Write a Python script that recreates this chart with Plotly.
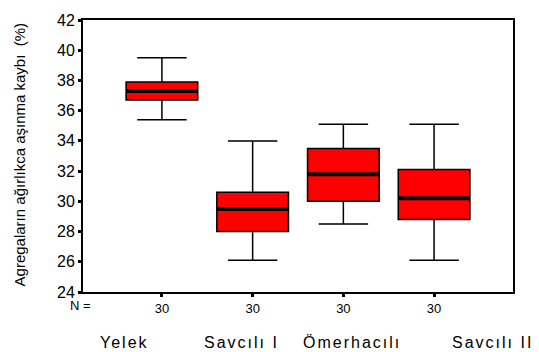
import plotly.graph_objects as go

# Abrasion loss (%) by aggregate source, five-number summaries
groups = ["Yelek", "Savcılı I", "Ömerhacılı", "Savcılı II"]
n_counts = [30, 30, 30, 30]
lower_whisker = [35.4, 26.1, 28.5, 26.1]
q1 = [36.7, 28.0, 30.0, 28.8]
median = [37.3, 29.5, 31.8, 30.2]
q3 = [37.9, 30.6, 33.5, 32.1]
upper_whisker = [39.5, 34.0, 35.1, 35.1]
y_ticks = [24, 26, 28, 30, 32, 34, 36, 38, 40, 42]

positions = list(range(len(groups)))
box_w = 0.79
font = "Liberation Sans, Arial, sans-serif"

fig = go.Figure()
fig.add_trace(go.Box(
    x=positions,
    q1=q1, median=median, q3=q3,
    lowerfence=lower_whisker, upperfence=upper_whisker,
    width=box_w,
    whiskerwidth=0.69,
    fillcolor="#FF0000",
    line=dict(color="#000000", width=1.5),
    boxpoints=False,
    hoverinfo="skip",
    showlegend=False,
))

# heavier median bars
for p, m in zip(positions, median):
    fig.add_trace(go.Scatter(
        x=[p - box_w / 2, p + box_w / 2], y=[m, m],
        mode="lines", line=dict(color="#000000", width=4),
        hoverinfo="skip", showlegend=False,
    ))

fig.update_layout(
    width=539, height=352,
    margin=dict(l=83, r=26, t=14, b=60),
    paper_bgcolor="white", plot_bgcolor="white",
    font=dict(family=font, color="black"),
    xaxis=dict(
        range=[-0.87, 3.87],
        tickmode="array", tickvals=positions,
        ticktext=[str(n) for n in n_counts],
        ticks="outside", ticklen=3, tickwidth=3, tickcolor="black",
        tickfont=dict(size=13),
        showline=True, linecolor="black", linewidth=2, mirror=True,
        showgrid=False, zeroline=False,
    ),
    yaxis=dict(
        range=[24, 42],
        tickmode="array", tickvals=y_ticks,
        ticks="outside", ticklen=3, tickwidth=3, tickcolor="black",
        tickfont=dict(size=16),
        showline=True, linecolor="black", linewidth=2, mirror=True,
        showgrid=False, zeroline=False,
    ),
)

# vertical axis title
fig.add_annotation(text="Agregaların ağırlıkca aşınma kaybı  (%)",
                   xref="paper", yref="paper", x=-0.147, y=0.505,
                   textangle=-90, showarrow=False, font=dict(size=15),
                   xanchor="center", yanchor="middle")

fig.add_annotation(text="N =", xref="paper", yref="paper", x=-0.005, y=0,
                   yshift=-13, showarrow=False, font=dict(size=13),
                   xanchor="center", yanchor="middle")

# group names sit in a row beneath the counts
name_x = [-0.41, 0.88, 2.10, 3.64]
for g, nx in zip(groups, name_x):
    fig.add_annotation(text=f'<span style="letter-spacing:2px">{g}</span>',
                       x=nx, xref="x", y=0, yref="paper", yshift=-50,
                       showarrow=False, font=dict(size=16),
                       xanchor="center", yanchor="middle")

fig.write_html("out.html")
